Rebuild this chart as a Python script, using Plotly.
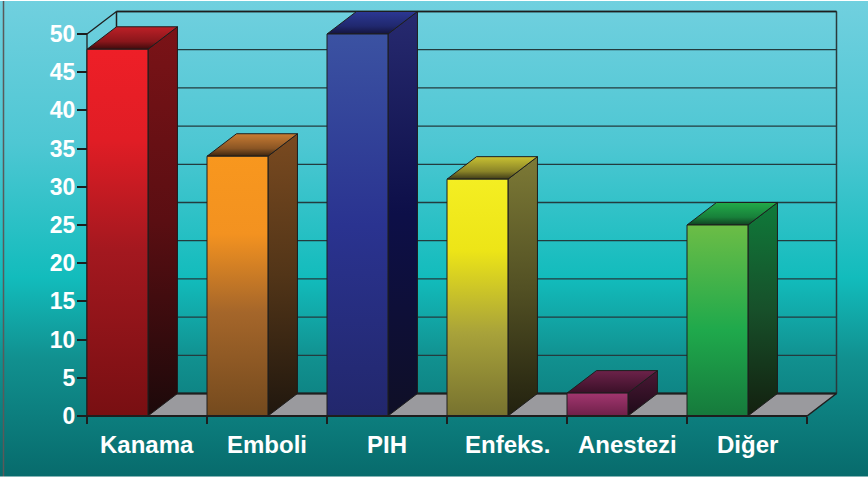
import plotly.graph_objects as go

# ---- data -------------------------------------------------------------
categories = ["Kanama", "Emboli", "PIH", "Enfeks.", "Anestezi", "Diğer"]
values = [48, 34, 50, 31, 3, 25]
y_ticks = list(range(0, 51, 5))

# vertical gradients (bottom -> top) for each face of each bar
front_scales = [
    [[0, "#780f12"], [0.45, "#a3181f"], [0.75, "#e01d25"], [1, "#ee1f27"]],
    [[0, "#744a1e"], [0.4, "#a5662a"], [0.7, "#f39220"], [1, "#f8971e"]],
    [[0, "#22276c"], [0.5, "#2a3390"], [1, "#3b52a2"]],
    [[0, "#77722f"], [0.35, "#a8a23a"], [0.7, "#ede517"], [1, "#f4ee22"]],
    [[0, "#6e2049"], [1, "#a2366f"]],
    [[0, "#167a3c"], [0.45, "#1fa94c"], [1, "#6cbd46"]],
]
side_scales = [
    [[0, "#1c090a"], [0.5, "#5a0e12"], [1, "#7b1317"]],
    [[0, "#20170e"], [0.5, "#523518"], [1, "#7a4a20"]],
    [[0, "#0f0f26"], [0.5, "#0d0f48"], [1, "#272a70"]],
    [[0, "#22210f"], [0.5, "#535124"], [1, "#7d7a36"]],
    [[0, "#1e0a18"], [1, "#4a1835"]],
    [[0, "#13200f"], [0.5, "#17502a"], [1, "#0f7a3a"]],
]
top_scales = [
    [[0, "#3e0a0c"], [0.35, "#8a161b"], [1, "#bd2027"]],
    [[0, "#3a2410"], [0.35, "#8a5524"], [1, "#c97c33"]],
    [[0, "#14143e"], [0.35, "#20286e"], [1, "#2c3894"]],
    [[0, "#3e3a18"], [0.35, "#8a8428"], [1, "#c9c232"]],
    [[0, "#3a1028"], [1, "#6c2249"]],
    [[0, "#104020"], [0.35, "#18803a"], [1, "#22ab49"]],
]

# ---- geometry: pixel layout of the 3-D frame ---------------------------
W, H = 868, 479
ORIGIN_X, ORIGIN_Y = 87, 416          # pixel of category 0 / value 0 on the front plane
PX_PER_CAT = 120
PX_PER_UNIT = 382 / 50
DEPTH_PX = (29.5, 22.5)               # oblique depth shift of the back plane
BAR_W = 0.508                         # bar front width in category units

x_range = [-ORIGIN_X / PX_PER_CAT, (W - ORIGIN_X) / PX_PER_CAT]
y_range = [-(H - ORIGIN_Y) / PX_PER_UNIT, ORIGIN_Y / PX_PER_UNIT]
dx = DEPTH_PX[0] / PX_PER_CAT
dy = DEPTH_PX[1] / PX_PER_UNIT
n = len(categories)
y_max = y_ticks[-1]

EDGE = "#1e1e1e"
GRID = "#233b3e"
FONT = "Liberation Sans, Arial"

fig = go.Figure()


def poly(xs, ys, scale, width=1.0, color=EDGE):
    lo, hi = min(ys), max(ys)
    return go.Scatter(
        x=xs + [xs[0]], y=ys + [ys[0]], mode="lines", fill="toself",
        fillgradient=dict(type="vertical", colorscale=scale, start=lo, stop=hi),
        line=dict(color=color, width=width), hoverinfo="skip", showlegend=False)


def seg(xs, ys, width=1.3, color=GRID):
    return go.Scatter(x=xs, y=ys, mode="lines", line=dict(color=color, width=width),
                      hoverinfo="skip", showlegend=False)


# background gradient across the whole canvas
fig.add_trace(go.Scatter(
    x=[x_range[0], x_range[1], x_range[1], x_range[0], x_range[0]],
    y=[y_range[0], y_range[0], y_range[1], y_range[1], y_range[0]],
    mode="lines", fill="toself", line=dict(width=0),
    fillgradient=dict(type="vertical", start=y_range[0], stop=y_range[1],
                      colorscale=[[0, "#076a6b"], [0.25, "#11908f"], [0.42, "#12bcbc"],
                                  [0.7, "#4ec7d3"], [1, "#71d0df"]]),
    hoverinfo="skip", showlegend=False))

# back wall grid lines
for t in y_ticks[1:]:
    fig.add_trace(seg([dx, n + dx], [t + dy, t + dy]))

# back wall side edges
fig.add_trace(seg([dx, dx], [dy, y_max + dy], 1.5, EDGE))
fig.add_trace(seg([n + dx, n + dx], [dy, y_max + dy], 1.5, "#2a3a3c"))

# floor
fig.add_trace(poly([0, n, n + dx, dx], [0, 0, dy, dy],
                   [[0, "#9a9a9e"], [1, "#9a9a9e"]], width=1.5))
fig.add_trace(seg([dx, n + dx], [dy, dy], 2.2, EDGE))

# left wall outline
fig.add_trace(seg([0, 0], [0, y_max], 1.3, EDGE))
fig.add_trace(seg([0, dx], [y_max, y_max + dy], 1.3, EDGE))
fig.add_trace(seg([dx, n + dx], [y_max + dy, y_max + dy], 1.5, EDGE))

# 3-D bars
for i, v in enumerate(values):
    x0, x1 = i, i + BAR_W
    fig.add_trace(poly([x1, x1 + dx, x1 + dx, x1], [0, dy, v + dy, v], side_scales[i]))
    fig.add_trace(poly([x0, x1, x1 + dx, x0 + dx], [v, v, v + dy, v + dy], top_scales[i]))
    fig.add_trace(poly([x0, x1, x1, x0], [0, 0, v, v], front_scales[i]))

# front floor edge
fig.add_trace(seg([0, n], [0, 0], 2.2, EDGE))

# category labels
label_y = -(444 - ORIGIN_Y) / PX_PER_UNIT
for i, c in enumerate(categories):
    fig.add_annotation(x=i + 0.5, y=label_y, text=c, showarrow=False,
                       xanchor="center", yanchor="middle",
                       font=dict(family=FONT, size=24, color="white", weight="bold"))

fig.update_layout(
    width=W, height=H, margin=dict(l=0, r=0, t=0, b=0),
    paper_bgcolor="#ffffff", plot_bgcolor="rgba(0,0,0,0)",
    showlegend=False,
    xaxis=dict(range=x_range, domain=[0, 1], anchor="free", position=1 - ORIGIN_Y / H,
               showgrid=False, zeroline=False, showline=False,
               tickmode="array", tickvals=list(range(n + 1)), ticks="outside",
               ticklen=7, tickwidth=1.5, tickcolor=EDGE, showticklabels=False,
               fixedrange=True),
    yaxis=dict(range=y_range, domain=[0, 1], anchor="free", position=ORIGIN_X / W,
               showgrid=False, zeroline=False, showline=False,
               tickmode="array", tickvals=y_ticks, ticks="outside",
               ticklen=10, tickwidth=1.5, tickcolor=EDGE, ticklabelstandoff=-3,
               tickfont=dict(family=FONT, size=23, color="white", weight="bold"),
               fixedrange=True),
    shapes=[
        dict(type="line", xref="paper", yref="paper", x0=3.5 / W, x1=3.5 / W,
             y0=0, y1=1, line=dict(color="#5a5a5a", width=1.5)),
        dict(type="rect", xref="paper", yref="paper", x0=0, x1=1,
             y0=0, y1=2.5 / H, line=dict(width=0), fillcolor="#ffffff"),
        dict(type="rect", xref="paper", yref="paper", x0=0, x1=1,
             y0=1 - 1 / H, y1=1, line=dict(width=0), fillcolor="#ffffff"),
    ],
)

fig.write_html("out.html")
